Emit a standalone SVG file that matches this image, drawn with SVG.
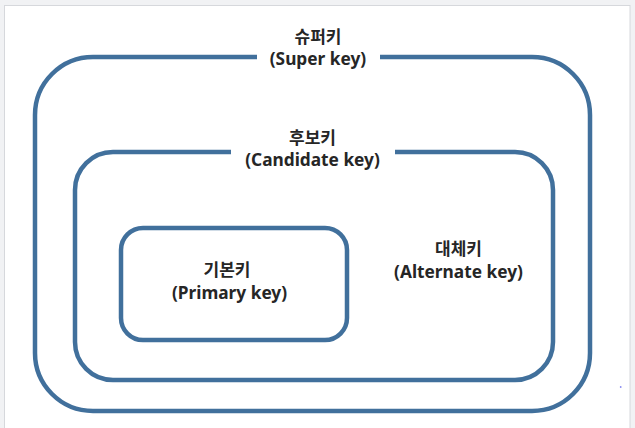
<svg xmlns="http://www.w3.org/2000/svg" width="635" height="428" viewBox="0 0 635 428">
  <style>
    .box { fill: none; stroke: #41709c; stroke-width: 4.5; stroke-linecap: butt; }
    .ko { font-family: "Noto Sans CJK KR", "Noto Sans", sans-serif; font-size: 17px; font-weight: bold; fill: #262626; text-anchor: middle; }
    .en { font-family: "Noto Sans", "Open Sans", sans-serif; font-size: 17.3px; font-weight: bold; fill: #262626; text-anchor: middle; }
  </style>
  <rect x="0" y="0" width="635" height="428" fill="#f1f2f4"/>
  <rect x="4.5" y="5.5" width="625.5" height="440" fill="#ffffff" stroke="#d6d8dc" stroke-width="1"/>
  <g id="super-key">
    <path class="box" d="M380,57 H532 A58,58 0 0 1 590,115 V353 A58,58 0 0 1 532,411 H93 A58,58 0 0 1 35,353 V115 A58,58 0 0 1 93,57 H257"/>
    <text class="ko" x="318" y="43">슈퍼키</text>
    <text class="en" x="318" y="65">(Super key)</text>
  </g>
  <g id="candidate-key">
    <path class="box" d="M395,152 H515 A38,38 0 0 1 553,190 V342 A38,38 0 0 1 515,380 H113 A38,38 0 0 1 75,342 V190 A38,38 0 0 1 113,152 H231"/>
    <text class="ko" x="312.5" y="144">후보키</text>
    <text class="en" x="312.5" y="166">(Candidate key)</text>
  </g>
  <g id="primary-key">
    <rect class="box" x="121" y="228" width="226" height="112" rx="22" ry="22"/>
    <text class="ko" x="227" y="276">기본키</text>
    <text class="en" x="229.5" y="298.5">(Primary key)</text>
  </g>
  <g id="alternate-key">
    <text class="ko" x="458.5" y="255">대체키</text>
    <text class="en" x="458.5" y="277.5">(Alternate key)</text>
  </g>
  <g id="connectors"></g>
  <circle cx="620.7" cy="387" r="0.9" fill="#8a8cf0"/>
</svg>
